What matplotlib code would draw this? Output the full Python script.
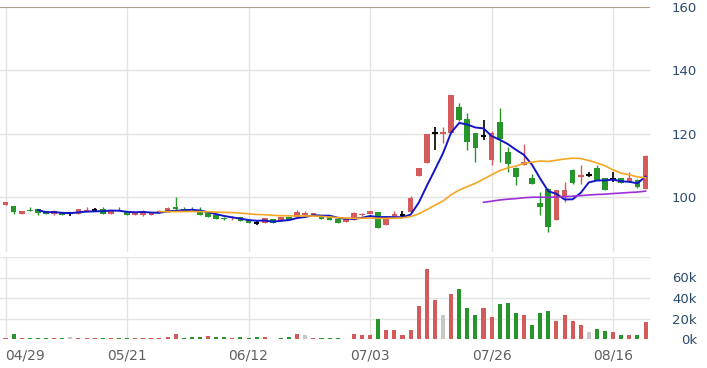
import numpy as np
import pandas as pd
import matplotlib
matplotlib.use('Agg')
import matplotlib.pyplot as plt

# daily bars
opens = [97.5, 97.2, 94.6, 95.9, 96.2, 95.6, 94.6, 95.3, 95.0, 94.7,
         95.5, 96.0, 96.2, 94.7, 96.1, 95.6, 94.3, 94.4, 94.3, 94.9,
         95.3, 96.8, 96.3, 96.4, 95.4, 95.0, 94.5, 93.4, 93.4, 93.6,
         92.7, 91.9, 91.7, 93.1, 92.5, 93.8, 93.8, 94.4, 94.2, 94.0,
         93.6, 93.0, 92.2, 92.7, 94.3, 94.6, 95.2, 91.2, 94.2, 94.5,
         95.4, 106.6, 110.7, 120.1, 120.0, 120.1, 128.5, 124.8, 120.1, 119.2,
         111.7, 123.8, 114.3, 109.1, 110.1, 105.9, 98.1, 102.7, 92.7, 100.1,
         108.5, 106.5, 107.1, 109.1, 106.2, 105.7, 106.2, 104.8, 105.4, 102.6]
highs = [98.6, 97.2, 95.6, 97.0, 96.2, 95.6, 96.0, 95.3, 95.3, 96.3,
         97.0, 96.6, 97.0, 96.0, 96.9, 95.6, 95.3, 96.0, 95.0, 95.8,
         97.0, 100.0, 96.8, 97.0, 96.9, 95.0, 94.5, 93.8, 94.0, 93.6,
         92.7, 92.4, 93.3, 93.1, 93.8, 93.8, 95.9, 95.6, 94.9, 94.0,
         93.6, 93.0, 93.3, 95.3, 94.9, 95.6, 95.2, 93.3, 95.5, 95.6,
         100.3, 109.1, 119.9, 122.2, 122.0, 132.2, 129.6, 126.5, 120.1, 124.3,
         121.0, 128.0, 115.9, 109.6, 116.9, 107.3, 101.7, 103.0, 102.4, 104.8,
         109.0, 110.2, 108.0, 110.0, 106.2, 108.0, 106.2, 108.0, 105.8, 113.2]
lows = [97.5, 94.6, 94.6, 95.5, 94.5, 94.8, 94.3, 94.4, 94.0, 94.7,
        95.5, 95.6, 94.7, 94.7, 95.9, 94.3, 94.3, 94.2, 94.3, 94.9,
        95.3, 96.0, 95.9, 95.9, 94.4, 93.8, 93.1, 92.8, 92.9, 92.5,
        91.7, 91.3, 91.7, 92.0, 92.5, 92.7, 93.8, 93.8, 94.2, 93.1,
        92.7, 91.9, 92.2, 92.7, 94.1, 94.6, 90.3, 91.2, 93.5, 93.9,
        95.4, 106.6, 110.7, 114.8, 117.0, 120.1, 124.0, 114.8, 111.1, 118.0,
        110.1, 111.1, 108.0, 103.8, 110.1, 104.0, 94.3, 89.1, 92.7, 98.5,
        104.0, 104.0, 106.4, 105.4, 102.4, 104.8, 104.5, 104.8, 102.8, 102.6]
closes = [98.4, 95.3, 95.6, 95.5, 95.0, 94.8, 95.6, 94.4, 95.0, 96.2,
          96.0, 96.0, 94.7, 96.0, 95.9, 94.3, 95.3, 95.2, 95.0, 95.6,
          96.5, 96.2, 95.9, 95.9, 94.5, 93.8, 93.1, 93.0, 93.7, 92.5,
          91.7, 91.9, 93.3, 92.0, 93.8, 92.8, 95.2, 94.9, 94.9, 93.1,
          92.7, 92.0, 93.2, 94.9, 94.6, 95.6, 90.3, 93.3, 94.7, 94.5,
          99.6, 109.1, 119.9, 120.1, 120.6, 132.2, 124.3, 117.4, 115.4, 119.2,
          120.1, 118.5, 110.6, 106.4, 111.1, 104.3, 96.9, 90.6, 102.4, 102.2,
          104.5, 107.1, 107.1, 105.4, 102.4, 105.7, 104.5, 106.2, 103.1, 113.0]
# volume in thousands, and its colour: r = up, g = down, n = flat
volumes = [0.6, 5.0, 0.6, 0.6, 0.6, 0.6, 0.6, 0.6, 2.0, 0.6,
           0.6, 0.6, 0.6, 0.6, 0.6, 0.6, 0.6, 0.6, 0.6, 0.6,
           2.0, 5.0, 0.6, 2.2, 2.2, 3.0, 2.2, 2.2, 0.6, 2.2,
           0.6, 2.2, 2.2, 0.4, 0.6, 2.2, 5.0, 4.0, 1.0, 0.6,
           0.6, 0.6, 0.4, 5.0, 3.5, 3.5, 19.5, 8.7, 8.7, 3.5,
           8.7, 32.0, 68.6, 37.9, 23.3, 44.3, 49.2, 30.7, 23.3, 30.7,
           21.0, 34.6, 35.6, 25.0, 23.3, 13.6, 25.0, 27.2, 17.5, 23.3,
           17.5, 13.6, 6.8, 9.7, 7.8, 6.5, 3.9, 3.9, 3.9, 16.2]
vol_side = "rgrgggrgnr" + "rrgrggrrrr" + "rrgggrggrg" + "ggrgggrnrg" + \
           "ggnrrrgrrr" + "rrrrnrgggr" + "rgggrgggrr" + "rrnggrgrgr"

tick_idx = [0, 15, 30, 45, 60, 75]
tick_labels = ['04/29', '05/21', '06/12', '07/03', '07/26', '08/16']

RED = '#d45b5b'
GREEN = '#26962a'
GRAY = '#c8c8c8'
GRID = '#e3e3e3'
LABEL = '#2b4a6d'

o = np.array(opens)
h = np.array(highs)
l = np.array(lows)
c = np.array(closes)
x = np.arange(len(c))

fig = plt.figure(figsize=(7.07, 3.68), dpi=100)
W, H = 707.0, 368.0
ax = fig.add_axes([0, 1 - 252 / H, 650 / W, 245 / H])
axv = fig.add_axes([0, 1 - 339 / H, 650 / W, 82 / H], sharex=ax)

# candles: red up, green down, black cross when open == close
up = c > o
dn = c < o
flat = c == o
for mask, col in ((up, RED), (dn, GREEN)):
    ax.vlines(x[mask], l[mask], h[mask], color=col, lw=1, zorder=2)
    ax.bar(x[mask], np.abs(c - o)[mask], bottom=np.minimum(o, c)[mask],
           width=0.7, color=col, zorder=3)
ax.vlines(x[flat], l[flat], h[flat], color='black', lw=1.2, zorder=3)
ax.hlines(c[flat], x[flat] - 0.35, x[flat] + 0.35, color='black', lw=1.5, zorder=3)

# moving averages 5 / 20 / 60
s = pd.Series(c)
ax.plot(x, s.rolling(5).mean(), color='#1414c8', lw=1.4, zorder=4)
ax.plot(x, s.rolling(20).mean(), color='#f5a623', lw=1.2, zorder=4)
ax.plot(x, s.rolling(60).mean(), color='#9b30d9', lw=1.2, zorder=4)

ax.set_ylim(82.7, 160)
ax.set_yticks([100, 120, 140, 160])
ax.axhline(160, color='#a89880', lw=1.3, zorder=1)

# volume
vcols = [{'r': RED, 'g': GREEN, 'n': GRAY}[k] for k in vol_side]
axv.bar(x, np.array(volumes) * 1000, width=0.5, color=vcols, zorder=3)
axv.set_ylim(0, 80000)
axv.set_yticks([0, 20000, 40000, 60000, 80000])
axv.set_yticklabels(['0k', '20k', '40k', '60k', ''])

ax.set_xlim(-0.68, 79.55)
axv.set_xticks(tick_idx)
axv.set_xticklabels(tick_labels)
axv.get_xticklabels()[0].set_horizontalalignment('left')

for a in (ax, axv):
    for sp in a.spines.values():
        sp.set_visible(False)
    a.yaxis.tick_right()
    a.grid(True, color=GRID, lw=1, zorder=0)
    a.set_axisbelow(True)
    a.tick_params(axis='y', length=0, pad=33.8, labelsize=9.5, labelcolor=LABEL)
    for t in a.get_yticklabels():
        t.set_horizontalalignment('right')
ax.tick_params(axis='x', length=0, labelbottom=False)
axv.tick_params(axis='x', length=0, pad=7, labelsize=10, labelcolor='#606060')

fig.savefig('out.png', dpi=100)
